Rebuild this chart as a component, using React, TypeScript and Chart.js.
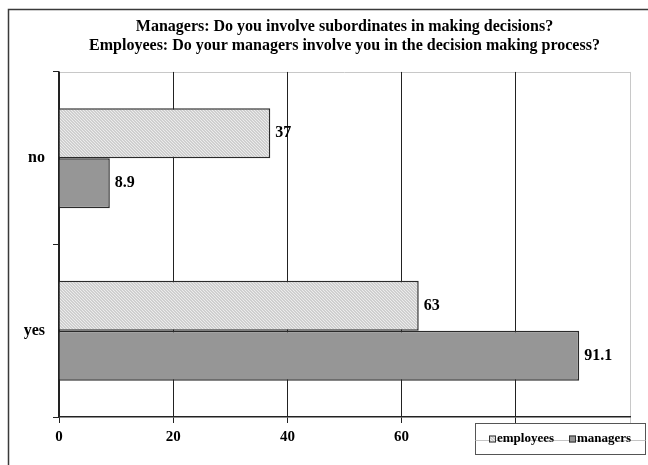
import React, { useEffect, useRef } from 'react';
import { Chart, registerables } from 'chart.js';

Chart.register(...registerables);

const categories = ['no', 'yes'];
const seriesNames = ['employees', 'managers'];
const employeesValues = [37, 63];
const managersValues = [8.9, 91.1];
const xTickValues = [0, 20, 40, 60, 80, 100];
const titleLines = [
  'Managers: Do you involve subordinates in making decisions?',
  'Employees: Do your managers involve you in the decision making process?',
];

const FONT = '"Liberation Serif", "Times New Roman", serif';

function makeHatch(): CanvasPattern | string {
  const c = document.createElement('canvas');
  c.width = 3;
  c.height = 3;
  const g = c.getContext('2d');
  if (!g) return '#d6d6d6';
  g.fillStyle = '#cfcfcf';
  g.fillRect(0, 0, 3, 3);
  g.fillStyle = '#ececec';
  g.fillRect(0, 0, 1, 1);
  g.fillRect(1, 1, 1, 1);
  g.fillRect(2, 2, 1, 1);
  return g.createPattern(c, 'repeat') || '#d6d6d6';
}

const framePlugin = {
  id: 'frame',
  beforeDraw(chart: any) {
    const { ctx, width, height, chartArea } = chart;
    ctx.save();
    ctx.fillStyle = '#ffffff';
    ctx.fillRect(0, 0, width, height);
    ctx.strokeStyle = '#3a3a3a';
    ctx.lineWidth = 1.5;
    ctx.beginPath();
    ctx.moveTo(8.5, height + 2);
    ctx.lineTo(8.5, 9.5);
    ctx.lineTo(width + 2, 9.5);
    ctx.stroke();
    ctx.strokeStyle = '#c8c8c8';
    ctx.lineWidth = 1;
    ctx.beginPath();
    ctx.moveTo(chartArea.left, Math.round(chartArea.top) + 0.5);
    ctx.lineTo(chartArea.right, Math.round(chartArea.top) + 0.5);
    ctx.stroke();
    ctx.restore();
  },
};

const valueLabelPlugin = {
  id: 'valueLabels',
  afterDatasetsDraw(chart: any) {
    const { ctx } = chart;
    ctx.save();
    ctx.font = `bold 16px ${FONT}`;
    ctx.fillStyle = '#000';
    ctx.textAlign = 'left';
    ctx.textBaseline = 'middle';
    chart.data.datasets.forEach((ds: any, i: number) => {
      const meta = chart.getDatasetMeta(i);
      meta.data.forEach((bar: any, j: number) => {
        ctx.fillText(String(ds.data[j]), bar.x + 5, bar.y);
      });
    });
    ctx.restore();
  },
};

const boxLegendPlugin = {
  id: 'boxLegend',
  afterDraw(chart: any) {
    const { ctx } = chart;
    const x0 = 475.5;
    const y0 = 423.5;
    const w = 170;
    const h = 31;
    ctx.save();
    ctx.fillStyle = '#ffffff';
    ctx.fillRect(x0, y0, w, h);
    ctx.strokeStyle = '#555';
    ctx.lineWidth = 1;
    ctx.strokeRect(x0, y0, w, h);
    const cy = y0 + h / 2;
    ctx.strokeStyle = '#c4c4c4';
    ctx.beginPath();
    ctx.moveTo(x0, cy + 1.5);
    ctx.lineTo(x0 + w, cy + 1.5);
    ctx.stroke();
    ctx.font = `bold 13px ${FONT}`;
    ctx.textBaseline = 'middle';
    ctx.textAlign = 'left';
    let x = 489;
    chart.data.datasets.forEach((ds: any, i: number) => {
      ctx.fillStyle = ds.backgroundColor;
      ctx.fillRect(x, cy - 3.5, 7, 7);
      ctx.strokeStyle = '#333';
      ctx.lineWidth = 1;
      ctx.strokeRect(x + 0.5, cy - 3, 6, 6);
      ctx.fillStyle = '#000';
      ctx.fillText(seriesNames[i], x + 8, cy);
      x += 80;
    });
    ctx.restore();
  },
};

export default function App() {
  const ref = useRef<HTMLCanvasElement | null>(null);

  useEffect(() => {
    document.body.style.margin = '0';
    const canvas = ref.current;
    if (!canvas) return;
    const hatch = makeHatch();
    const chart = new Chart(canvas, {
      type: 'bar',
      data: {
        labels: categories,
        datasets: [
          {
            label: seriesNames[0],
            data: employeesValues,
            backgroundColor: hatch as any,
            borderColor: '#2a2a2a',
            borderWidth: 1.5,
            categoryPercentage: 0.58,
            barPercentage: 1,
          },
          {
            label: seriesNames[1],
            data: managersValues,
            backgroundColor: '#969696',
            borderColor: '#2a2a2a',
            borderWidth: 1.5,
            categoryPercentage: 0.58,
            barPercentage: 1,
          },
        ],
      },
      options: {
        indexAxis: 'y',
        responsive: false,
        animation: false,
        layout: { padding: { left: 0, right: 18, top: 0, bottom: 0 } },
        plugins: {
          legend: { display: false },
          tooltip: { enabled: false },
          title: {
            display: true,
            fullSize: false,
            text: titleLines,
            color: '#000',
            font: { family: FONT, size: 16, weight: 'bold', lineHeight: 1.17 },
            padding: { top: 17.5, bottom: 17 },
          },
        },
        scales: {
          x: {
            type: 'linear',
            min: 0,
            max: 100,
            afterBuildTicks: (s: any) => {
              s.ticks = xTickValues.map((v) => ({ value: v }));
            },
            afterFit: (s: any) => {
              s.height = 48;
            },
            ticks: {
              color: '#000',
              padding: 5,
              maxRotation: 0,
              font: { family: FONT, size: 15, weight: 'bold' },
            },
            grid: {
              color: (c: any) => (c.tick && c.tick.value === 100 ? '#c8c8c8' : '#222'),
              tickLength: 6,
              lineWidth: 1,
            },
            border: { color: '#222', width: 1.5 },
          },
          y: {
            type: 'category',
            afterFit: (s: any) => {
              s.width = 59;
            },
            ticks: {
              color: '#000',
              padding: 8,
              font: { family: FONT, size: 16, weight: 'bold' },
            },
            grid: {
              offset: true,
              drawOnChartArea: false,
              tickLength: 6,
              color: '#222',
            },
            border: { color: '#222', width: 1.5 },
          },
        },
      },
      plugins: [framePlugin, valueLabelPlugin, boxLegendPlugin],
    });
    return () => chart.destroy();
  }, []);

  return (
    <div style={{ width: 648, height: 465 }}>
      <canvas ref={ref} width={648} height={465} style={{ display: 'block', width: 648, height: 465 }} />
    </div>
  );
}
